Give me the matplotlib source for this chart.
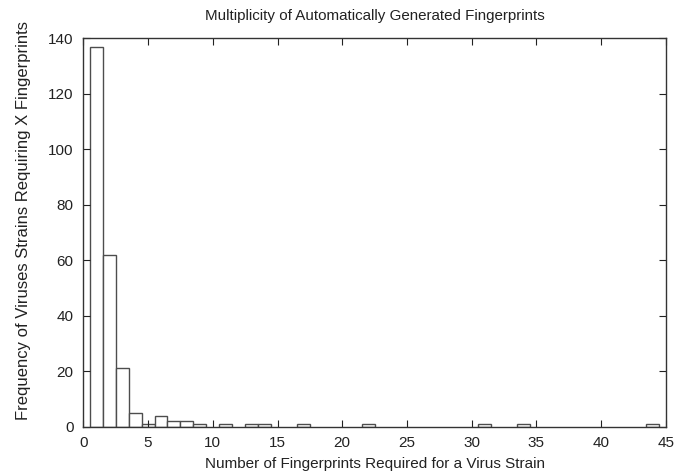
import matplotlib

matplotlib.use("Agg")
import matplotlib.pyplot as plt

plt.rcParams["font.family"] = ["Liberation Sans", "DejaVu Sans"]

# number of fingerprints required -> how many virus strains needed that many
num_fingerprints = [1, 2, 3, 4, 5, 6, 7, 8, 9, 11, 13, 14, 17, 22, 31, 34, 44]
frequency = [137, 62, 21, 5, 1, 4, 2, 2, 1, 1, 1, 1, 1, 1, 1, 1, 1]

x_ticks = [0, 5, 10, 15, 20, 25, 30, 35, 40, 45]
y_ticks = [0, 20, 40, 60, 80, 100, 120, 140]

fig = plt.figure(figsize=(6.79, 4.73), dpi=100)
ax = fig.add_axes([0.1227, 0.098, 0.858, 0.821])

ax.bar(num_fingerprints, frequency, width=1.0, align="center",
       facecolor="white", edgecolor="#4d4d4d", linewidth=1.0)

ax.set_xlim(0, 45)
ax.set_ylim(0, 140)
ax.set_xticks(x_ticks)
ax.set_yticks(y_ticks)
ax.tick_params(direction="in", length=5, width=0.8, top=True, right=True,
               labelsize=11, colors="#222222", pad=7)
for s in ax.spines.values():
    s.set_linewidth(1.0)
    s.set_color("#333333")

ax.set_title("Multiplicity of Automatically Generated Fingerprints",
             fontsize=10.9, pad=13, color="#222222")
ax.set_xlabel("Number of Fingerprints Required for a Virus Strain",
              fontsize=11, color="#222222")
ax.set_ylabel("Frequency of Viruses Strains Requiring X Fingerprints",
              fontsize=12, color="#222222")
ax.xaxis.set_label_coords(0.5, -0.077)
ax.yaxis.set_label_coords(-0.09, 0.53)

fig.savefig("out.png", dpi=100, facecolor="white")
